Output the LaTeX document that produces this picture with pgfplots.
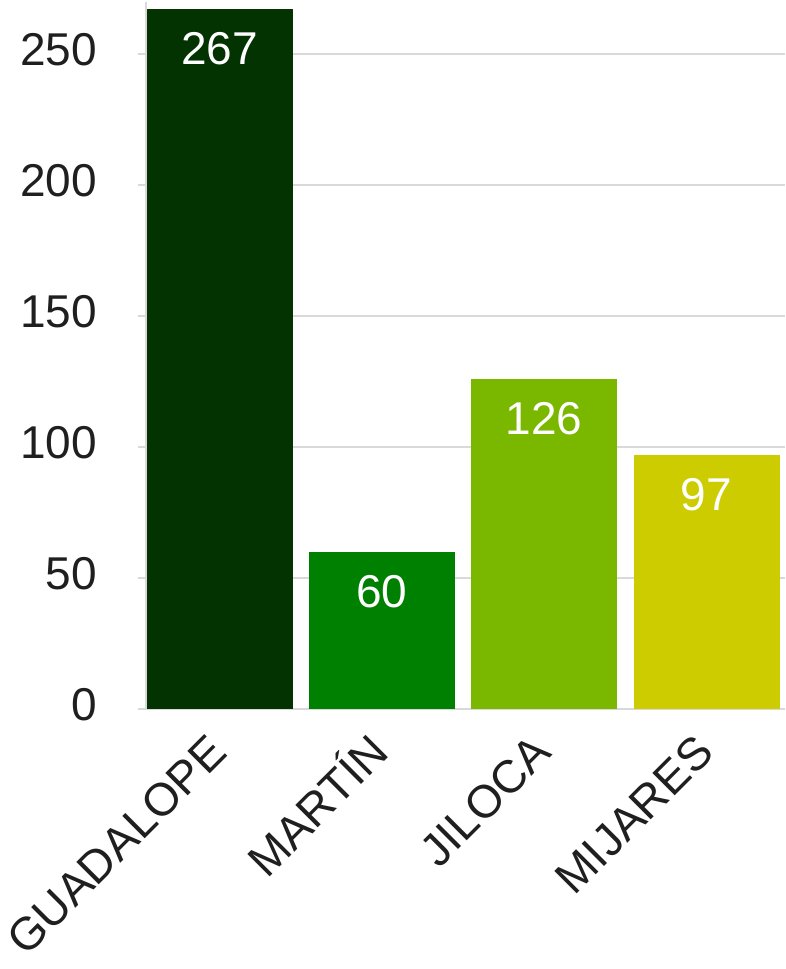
\documentclass[border=0pt]{standalone}
\usepackage{fontspec}
\setmainfont{Liberation Sans}
\usepackage{pgfplots}
\pgfplotsset{compat=1.18}
\definecolor{cGuad}{HTML}{033300}
\definecolor{cMart}{HTML}{008000}
\definecolor{cJilo}{HTML}{7AB800}
\definecolor{cMija}{HTML}{CCCC00}
\definecolor{gridgray}{HTML}{D9D9D9}
\definecolor{txt}{HTML}{1F1F1F}
\begin{document}
\begin{tikzpicture}
\begin{axis}[
    at={(0pt,0pt)}, anchor=south west,
    scale only axis,
    width=639pt, height=707.4pt,
    xmin=-0.453, xmax=3.4836,
    ymin=0, ymax=270,
    axis lines*=left,
    axis line style={gridgray, line width=1.6pt},
    ymajorgrids=true,
    grid style={gridgray, line width=1.6pt},
    ytick={0,50,100,150,200,250},
    xtick={0,1,2,3},
    xticklabels={GUADALOPE, MARTÍN, JILOCA, MIJARES},
    tick align=outside,
    major tick length=8pt,
    ytick style={gridgray, line width=1.6pt},
    xtick style={draw=none},
    /pgf/number format/assume math mode=true,
    tick label style={font=\fontsize{46}{55}\selectfont, text=txt, inner sep=0pt},
    yticklabel style={anchor=east, xshift=-41pt, yshift=4pt},
    xticklabel style={xshift=9.5pt, yshift=-38pt, rotate=45, anchor=base east, text height=33pt},
    ybar, bar width=146pt, bar shift=0pt,
    nodes near coords,
    every node near coord/.append style={font=\fontsize{46}{55}\selectfont, text=white, anchor=center, yshift=-39.5pt},
    clip=false,
]
\addplot[fill=cGuad, draw=none] coordinates {(0,267)};
\addplot[fill=cMart, draw=none] coordinates {(1,60)};
\addplot[fill=cJilo, draw=none] coordinates {(2,126)};
\addplot[fill=cMija, draw=none] coordinates {(3,97)};
\end{axis}
\pgfresetboundingbox
\useasboundingbox (-146pt,-260pt) rectangle (639pt,709pt);
\end{tikzpicture}
\end{document}
